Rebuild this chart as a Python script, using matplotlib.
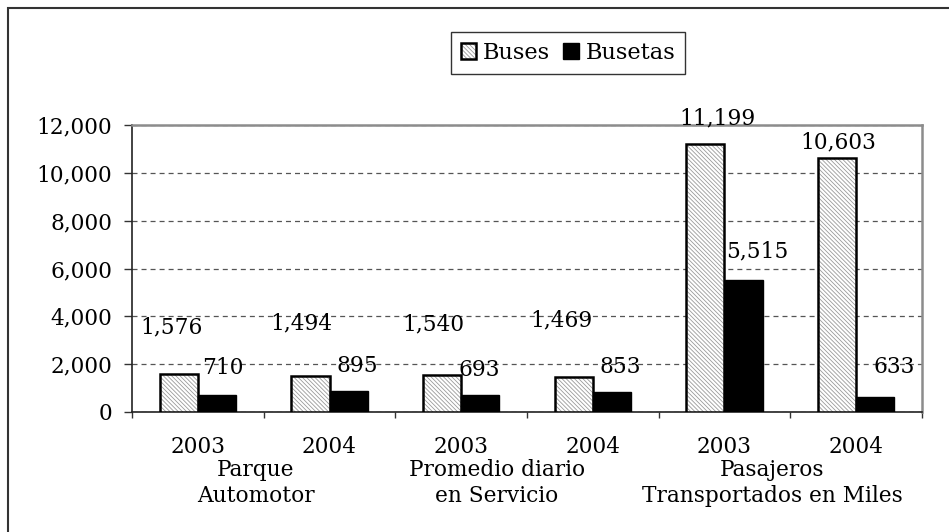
import numpy as np
import matplotlib
matplotlib.use("Agg")
import matplotlib.pyplot as plt
from matplotlib.patches import Patch, Rectangle
from matplotlib.legend_handler import HandlerTuple

# data
years = ["2003", "2004", "2003", "2004", "2003", "2004"]
groups = ["Parque\nAutomotor", "Promedio diario\nen Servicio", "Pasajeros\nTransportados en Miles"]
buses = [1576, 1494, 1540, 1469, 11199, 10603]
busetas = [710, 895, 693, 853, 5515, 633]
yticks = [0, 2000, 4000, 6000, 8000, 10000, 12000]

# label nudges in pixels (dx, dy up) as they sit in the original
buses_off = [(-7, 47), (-9, 53), (-9, 51), (-12, 56), (12, 26), (1, 16)]
busetas_off = [(6, 27), (9, 25), (-1, 25), (8, 25), (14, 29), (19, 30)]
group_off = [-8, -30, -18]

plt.rcParams["font.family"] = "DejaVu Serif"
plt.rcParams["hatch.linewidth"] = 0.6
plt.rcParams["lines.scale_dashes"] = False
FS = 15.6
PX = 0.72  # points per pixel at dpi 100
HATCH = "\\\\\\\\\\\\\\\\"
HCOL = "#9a9a9a"

fig = plt.figure(figsize=(9.49, 5.32), dpi=100)
ax = fig.add_axes([132 / 949, 1 - 412 / 532, 790 / 949, 287 / 532])

x = np.arange(len(years))
w = 0.289
# hatch layer then outline layer
ax.bar(x - w / 2, buses, w, color="white", edgecolor=HCOL, hatch=HATCH, linewidth=0, zorder=3)
ax.bar(x - w / 2, buses, w, fill=False, edgecolor="black", linewidth=1.8, zorder=4)
ax.bar(x + w / 2, busetas, w, color="black", edgecolor="black", linewidth=1.0, zorder=3)

for i, v in enumerate(buses):
    dx, dy = buses_off[i]
    ax.annotate(f"{v:,}", (x[i] - w / 2, v), xytext=(dx * PX, dy * PX), textcoords="offset points",
                ha="center", va="center", fontsize=FS, zorder=5, annotation_clip=False)
for i, v in enumerate(busetas):
    dx, dy = busetas_off[i]
    ax.annotate(f"{v:,}", (x[i] + w / 2, v), xytext=(dx * PX, dy * PX), textcoords="offset points",
                ha="center", va="center", fontsize=FS, zorder=5, annotation_clip=False)

ax.set_xlim(-0.5, len(years) - 0.5)
ax.set_ylim(0, 12000)
ax.set_yticks(yticks)
ax.set_yticklabels([f"{t:,}" for t in yticks], fontsize=FS)
ax.yaxis.grid(True, color="#555555", linestyle=(0, (3.6, 2.9)), linewidth=0.9, zorder=0)
ax.set_axisbelow(True)

ax.set_xticks(np.arange(len(years) + 1) - 0.5)
ax.set_xticklabels([])
ax.set_xticks(x, minor=True)
ax.set_xticklabels(years, minor=True, fontsize=FS)
ax.tick_params(axis="x", which="minor", length=0, pad=17.5)
ax.tick_params(axis="x", which="major", length=4.3, width=1, color="#333333")
ax.tick_params(axis="y", length=5.8, width=1, color="#333333", pad=8.6)

for s in ["top", "right"]:
    ax.spines[s].set_color("#8c8c8c")
    ax.spines[s].set_linewidth(1.8)
for s in ["left", "bottom"]:
    ax.spines[s].set_color("#222222")
    ax.spines[s].set_linewidth(1.2)

for k, g in enumerate(groups):
    ax.annotate(g, (2 * k + 0.5, 0), xycoords=("data", "axes fraction"),
                xytext=(group_off[k] * PX, -71 * PX), textcoords="offset points",
                ha="center", va="center", fontsize=FS, linespacing=1.22)

h_bus = (Patch(facecolor="white", edgecolor=HCOL, hatch=HATCH, linewidth=0),
         Patch(fill=False, edgecolor="black", linewidth=1.8))
h_set = Patch(facecolor="black", edgecolor="black")
leg = fig.legend([h_bus, h_set], ["Buses", "Busetas"], handler_map={tuple: HandlerTuple(ndivide=1)},
                 loc="center", bbox_to_anchor=(568 / 949, 1 - 53 / 532), ncol=2, fontsize=16.2,
                 handlelength=0.68, handleheight=0.68, handletextpad=0.3, columnspacing=0.6,
                 borderpad=0.45, fancybox=False, framealpha=1)
leg.get_frame().set_edgecolor("#333333")
leg.get_frame().set_linewidth(1.0)

fig.patches.append(Rectangle((8 / 949, -0.02), 1.1, 1 - 8 / 532 + 0.02, transform=fig.transFigure,
                             fill=False, edgecolor="#333333", linewidth=1.5, clip_on=False))

fig.savefig("out.png", dpi=100)
